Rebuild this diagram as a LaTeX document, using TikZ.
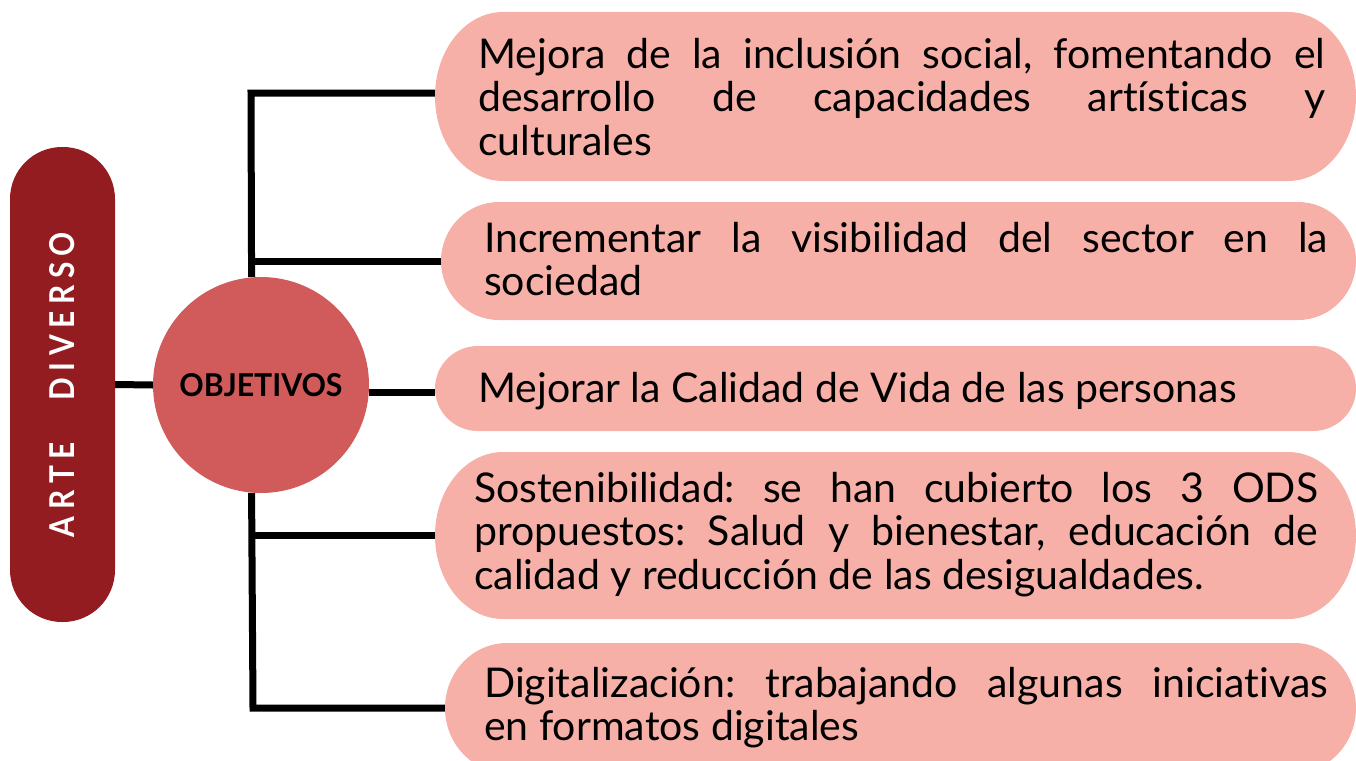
\documentclass[tikz,border=0pt]{standalone}
\usepackage{fontspec}
\setmainfont{Lato}[Ligatures=NoCommon]
\usepackage{graphicx}
\definecolor{artec}{HTML}{921C1F}
\definecolor{objc}{HTML}{D15A5B}
\definecolor{boxc}{HTML}{F6B0A7}
\pgfdeclarelayer{bg}
\pgfsetlayers{bg,main}
\frenchspacing
\newcommand\mypill[6]{%
  \fill[boxc] ({#2+#6},-#3) -- ({#4-#6},-#3)
    arc[start angle=90,end angle=-90,x radius=#6,y radius={(#5-#3)/2}]
    -- ({#2+#6},-#5)
    arc[start angle=270,end angle=90,x radius=#6,y radius={(#5-#3)/2}] -- cycle;
  \coordinate (#1) at (#2,{-(#3+#5)/2});}
\tikzset{
  conn/.style={line width=7pt, draw=black},
  boxtext/.style={anchor=base west, inner sep=0pt, align=justify,
    font=\fontsize{41}{43.5}\selectfont\frenchspacing, text=black},
  artebox/.style={fill=artec, rounded corners=52pt, minimum width=105pt,
    minimum height=475pt, inner sep=0pt, text=white},
  objcirc/.style={circle, fill=objc, minimum size=216pt, inner sep=0pt, text=black}
}
\begin{document}
\begin{tikzpicture}[x=1pt,y=1pt]
\useasboundingbox (0,0) rectangle (1356,-760);
\clip (0,0) rectangle (1356,-760);
% boxes
\mypill{b1}{435}{12}{1356}{181}{68}
\mypill{b2}{441}{202}{1356}{320}{58}
\mypill{b3}{435}{346}{1356}{431}{43}
\mypill{b4}{435}{452}{1356}{619}{68}
\mypill{b5}{445}{643}{1356}{773}{62}
% texts
\node[boxtext, text width=847pt] (t1) at (478,-68)
  {Mejora de la inclusión social, fomentando el\linebreak desarrollo de capacidades artísticas y\linebreak culturales};
\node[boxtext, text width=844pt] (t2) at (484,-252)
  {Incrementar la visibilidad del sector en la\linebreak sociedad};
\node[boxtext, text width=844pt] (t3) at (478,-402)
  {Mejorar la Calidad de Vida de las personas};
\node[boxtext, text width=844pt] (t4) at (474,-502)
  {Sostenibilidad: se han cubierto los 3 ODS\linebreak propuestos: Salud y bienestar, educación de\linebreak calidad y reducción de las desigualdades.};
\node[boxtext, text width=844pt] (t5) at (484,-697)
  {Digitalización: trabajando algunas iniciativas\linebreak en formatos digitales};
% main nodes
\node[artebox] (arte) at (62.5,-384.5)
  {\rotatebox{90}{\resizebox{305pt}{25pt}{\bfseries A\kern0.22em R\kern0.22em T\kern0.22em E\kern1.4em D\kern0.22em I\kern0.22em V\kern0.22em E\kern0.22em R\kern0.22em S\kern0.22em O}}};
\node[objcirc] (obj) at (261,-385)
  {\resizebox{163pt}{23pt}{\bfseries OBJETIVOS}};
\coordinate (tTop) at (251,-93);
\coordinate (tBot) at (253,-708);
\begin{pgfonlayer}{bg}
\draw[conn] (arte.east) -- (obj.west);
\draw[conn] (tTop -| b1) -- (tTop) -- (obj.95.3);
\draw[conn] (b2) -- (b2 -| tTop);
\draw[conn] (obj.-4.2) -- (obj.-4.2 -| b3);
\draw[conn] (b4) -- (b4 -| tBot);
\draw[conn] (obj.265.75) -- (tBot) -- (tBot -| b5);
\end{pgfonlayer}
\end{tikzpicture}
\end{document}
